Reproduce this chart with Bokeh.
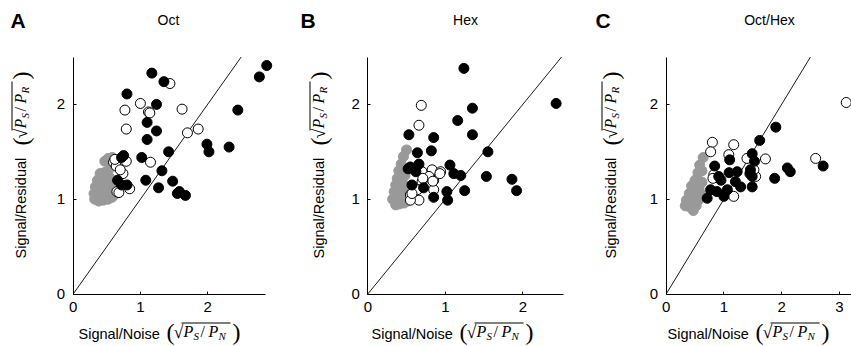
from math import pi
from bokeh.plotting import figure
from bokeh.models import Label, BoxAnnotation, FixedTicker, Range1d, LinearAxis
from bokeh.layouts import row
from bokeh.embed import file_html
from bokeh.resources import INLINE

# ---------------- data ----------------
diag = [0.0, 2.5]
y_ticks = [0, 1, 2]
ab_x_ticks = [0, 1, 2]
c_x_ticks = [0, 1, 2, 3]

# Panel A (Oct)
a_gray_x = [0.32, 0.38, 0.45, 0.52, 0.58, 0.62, 0.31, 0.36, 0.42, 0.48, 0.55, 0.60,
            0.33, 0.39, 0.45, 0.51, 0.57, 0.36, 0.42, 0.48, 0.54, 0.40, 0.46, 0.52,
            0.47, 0.52, 0.58, 0.55, 0.62]
a_gray_y = [1.00, 0.98, 0.99, 1.00, 1.02, 1.05, 1.06, 1.08, 1.06, 1.08, 1.07, 1.10,
            1.13, 1.15, 1.14, 1.16, 1.15, 1.20, 1.22, 1.21, 1.23, 1.27, 1.28, 1.30,
            1.40, 1.43, 1.44, 1.38, 1.36]
a_open_x = [1.44, 1.00, 1.12, 1.14, 0.77, 1.62, 0.79, 1.70, 1.86, 1.15, 0.60, 0.79,
            0.64, 0.74, 0.70, 0.65, 0.84, 0.62, 0.68]
a_open_y = [2.22, 2.01, 1.92, 1.91, 1.94, 1.95, 1.74, 1.70, 1.74, 1.39, 1.39, 1.40,
            1.35, 1.27, 1.31, 1.08, 1.11, 1.42, 1.07]
a_fill_x = [1.17, 1.35, 0.80, 1.24, 1.10, 1.24, 1.10, 1.42, 1.02, 1.32, 1.08, 1.48,
            1.27, 1.55, 1.67, 1.58, 0.72, 0.75, 0.66, 0.80, 0.72, 1.99, 2.02, 2.32,
            2.45, 2.77, 2.88]
a_fill_y = [2.33, 2.24, 2.11, 2.00, 1.81, 1.72, 1.63, 1.50, 1.44, 1.30, 1.20, 1.19,
            1.12, 1.06, 1.04, 1.08, 1.44, 1.46, 1.20, 1.15, 1.15, 1.58, 1.50, 1.55,
            1.94, 2.29, 2.41]

# Panel B (Hex)
b_gray_x = [0.50, 0.46, 0.43, 0.40, 0.45, 0.38, 0.43, 0.48, 0.36, 0.41, 0.46, 0.34,
            0.39, 0.44, 0.49, 0.32, 0.37, 0.42, 0.47, 0.36, 0.41, 0.47, 0.51]
b_gray_y = [1.52, 1.45, 1.37, 1.30, 1.30, 1.22, 1.22, 1.25, 1.15, 1.14, 1.16, 1.08,
            1.07, 1.08, 1.10, 1.00, 0.99, 1.00, 1.02, 0.94, 0.95, 0.96, 0.98]
b_open_x = [0.69, 0.66, 0.70, 0.83, 0.94, 0.85, 0.70, 0.55, 0.66, 0.55, 0.85, 0.79,
            0.64, 0.71, 0.84, 0.57, 0.93]
b_open_y = [1.99, 1.78, 1.29, 1.31, 1.29, 1.20, 1.185, 1.045, 0.99, 0.99, 1.10, 1.24,
            1.10, 1.22, 1.19, 1.06, 1.27]
b_fill_x = [1.24, 2.43, 1.35, 1.16, 1.35, 0.53, 0.85, 0.82, 0.64, 1.55, 0.55, 0.66,
            0.62, 0.57, 0.72, 0.85, 1.02, 1.03, 1.06, 1.11, 1.20, 1.25, 1.53, 1.86,
            1.92, 0.52]
b_fill_y = [2.38, 2.01, 1.96, 1.83, 1.68, 1.68, 1.65, 1.51, 1.49, 1.50, 1.34, 1.37,
            1.29, 1.15, 1.12, 1.02, 1.08, 0.99, 1.36, 1.27, 1.25, 1.09, 1.24, 1.21,
            1.09, 1.32]

# Panel C (Oct/Hex)
c_gray_x = [0.64, 0.58, 0.62, 0.55, 0.50, 0.56, 0.62, 0.44, 0.50, 0.57, 0.40, 0.46,
            0.53, 0.60, 0.35, 0.42, 0.49, 0.56, 0.33, 0.40, 0.47, 0.52]
c_gray_y = [1.44, 1.36, 1.30, 1.28, 1.20, 1.20, 1.18, 1.14, 1.12, 1.12, 1.06, 1.05,
            1.04, 1.06, 0.99, 0.98, 0.97, 0.99, 0.93, 0.92, 0.88, 0.93]
c_open_x = [0.80, 0.77, 1.17, 1.085, 1.72, 1.40, 2.59, 3.12, 0.825, 1.17, 1.55, 1.52, 0.81]
c_open_y = [1.60, 1.50, 1.575, 1.47, 1.425, 1.43, 1.43, 2.02, 1.26, 1.03, 1.24, 1.31, 1.22]
c_fill_x = [1.90, 1.62, 1.49, 1.53, 1.10, 0.84, 1.46, 1.49, 2.10, 2.15, 1.88, 2.72,
            1.23, 1.09, 0.95, 1.20, 1.29, 1.06, 1.49, 0.77, 0.71, 1.00, 0.88, 1.45, 0.91]
c_fill_y = [1.76, 1.62, 1.48, 1.40, 1.415, 1.35, 1.31, 1.24, 1.33, 1.29, 1.22, 1.35,
            1.29, 1.28, 1.20, 1.185, 1.13, 1.10, 1.13, 1.10, 1.01, 1.03, 1.08, 1.27, 1.24]

SANS = "Liberation Sans"
SERIF = "Liberation Serif"
GRAY = "#999999"
H = 346
OY = 52.5      # px from canvas bottom to y = 0
PXU_Y = 94.8   # px per y unit


def lab(p, x, y, text, size, font=SANS, style="normal", align="left",
        baseline="middle", angle=0.0):
    p.add_layout(Label(x=x, y=y, x_units="screen", y_units="screen", text=text,
                       text_font=font, text_font_size=f"{size}px",
                       text_font_style=style, text_align=align,
                       text_baseline=baseline, angle=angle, text_color="black"))


def bar(p, l, r, b, t):
    p.add_layout(BoxAnnotation(left=l, right=r, bottom=b, top=t,
                               left_units="screen", right_units="screen",
                               bottom_units="screen", top_units="screen",
                               fill_color="black", fill_alpha=1.0,
                               line_color=None, level="overlay"))


# math pieces: text, offset along the text direction, size, style, is_subscript
def math_pieces(sub2):
    return [("(", 0, 24, "normal", False), ("\u221a", 7, 18, "normal", False),
            ("P", 17, 16, "italic", False), ("S", 27, 11, "italic", True),
            ("/", 34, 16, "normal", False), ("P", 42, 16, "italic", False),
            (sub2, 52, 11, "italic", True), (")", 66, 24, "normal", False)]


def math_h(p, x0, yc, sub2):
    for t, off, sz, st, sub in math_pieces(sub2):
        lab(p, x0 + off, yc - (4 if sub else 0), t, sz, font=SERIF, style=st)
    bar(p, x0 + 15, x0 + 64, yc + 8, yc + 9)


def math_v(p, xc, y0, sub2):
    for t, off, sz, st, sub in math_pieces(sub2):
        lab(p, xc + (4 if sub else 0), y0 + off, t, sz, font=SERIF, style=st,
            angle=pi / 2)
    bar(p, xc - 9, xc - 8, y0 + 15, y0 + 64)


def panel(letter, title, width, ox, pxu, xaxis_end, xticks, gx, gy, ox_, oy_, fx, fy,
          letter_x, title_x, xlab_x, ylab_x):
    x0 = -ox / pxu
    x1 = (width - ox) / pxu
    y0 = -OY / PXU_Y
    y1 = (H - OY) / PXU_Y
    p = figure(width=width, height=H, output_backend="svg", toolbar_location=None,
               x_range=Range1d(x0, x1), y_range=Range1d(y0, y1),
               x_axis_location=None, y_axis_location=None,
               min_border=0, min_border_left=0, min_border_right=0,
               min_border_top=0, min_border_bottom=0)
    p.outline_line_color = None
    p.grid.visible = False
    p.background_fill_color = None
    p.border_fill_color = None

    xax = LinearAxis(fixed_location=0, bounds=(0, xaxis_end),
                     ticker=FixedTicker(ticks=xticks))
    yax = LinearAxis(fixed_location=0, bounds=(0, 2.5),
                     ticker=FixedTicker(ticks=y_ticks))
    for ax in (xax, yax):
        ax.major_tick_in = 3
        ax.major_tick_out = 0
        ax.minor_tick_line_color = None
        ax.axis_line_color = "black"
        ax.major_tick_line_color = "black"
        ax.major_label_text_font = SANS
        ax.major_label_text_font_size = "15px"
        ax.major_label_text_color = "black"
    xax.major_label_standoff = 8
    yax.major_label_standoff = 8
    p.add_layout(xax, "below")
    p.add_layout(yax, "left")

    p.line(diag, diag, line_color="black", line_width=0.9)
    p.scatter(gx, gy, size=10, fill_color=GRAY, line_color=GRAY)
    p.scatter(ox_, oy_, size=10, fill_color="white", line_color="black", line_width=1)
    p.scatter(fx, fy, size=10, fill_color="black", line_color="black")

    # panel letter and title
    lab(p, letter_x, H - 19.5, letter, 21, style="bold")
    lab(p, title_x, H - 19, title, 14, align="center")
    # x label
    lab(p, xlab_x, H - 333, "Signal/Noise", 14.5)
    math_h(p, xlab_x + 88, H - 331, "N")
    # y label
    ylab_y = H - 258
    lab(p, ylab_x, ylab_y, "Signal/Residual", 14.5, angle=pi / 2)
    math_v(p, ylab_x, ylab_y + 113, "R")
    return p


pa = panel("A", "Oct", 290, 72.7, 67.2, 2.86, ab_x_ticks, a_gray_x, a_gray_y,
           a_open_x, a_open_y, a_fill_x, a_fill_y, 10, 168, 78, 20)
pb = panel("B", "Hex", 280, 77.3, 77.5, 2.52, ab_x_ticks, b_gray_x, b_gray_y,
           b_open_x, b_open_y, b_fill_x, b_fill_y, 10, 175, 81, 28)
pc = panel("C", "Oct/Hex", 281, 95.7, 57.7, 3.4, c_x_ticks, c_gray_x, c_gray_y,
           c_open_x, c_open_y, c_fill_x, c_fill_y, 25, 199, 97, 40)

layout = row(pa, pb, pc)
open("out.html", "w").write(file_html(layout, INLINE))
